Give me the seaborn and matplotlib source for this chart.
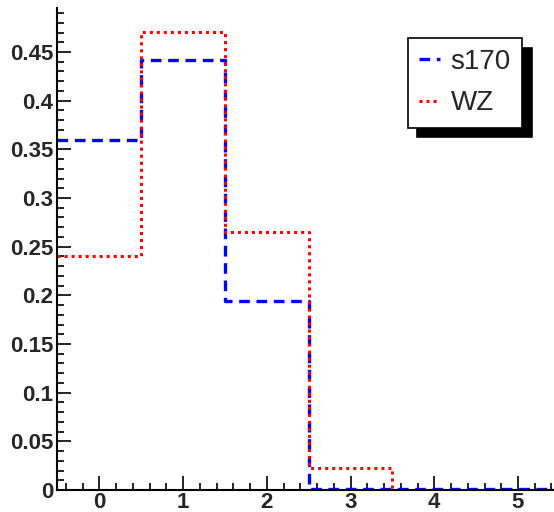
import numpy as np
import pandas as pd
import matplotlib
matplotlib.use("Agg")
import matplotlib.pyplot as plt
from matplotlib.ticker import MultipleLocator
import seaborn as sns

# Data
bin_centers = [0, 1, 2, 3, 4, 5]
s170_values = [0.360, 0.442, 0.194, 0.001, 0.001, 0.001]
wz_values = [0.240, 0.471, 0.265, 0.023, 0.0, 0.0]
series_names = ["s170", "WZ"]
x_ticks = [0, 1, 2, 3, 4, 5]
y_ticks = [0, 0.05, 0.1, 0.15, 0.2, 0.25, 0.3, 0.35, 0.4, 0.45]
y_tick_labels = ["0", "0.05", "0.1", "0.15", "0.2", "0.25", "0.3", "0.35", "0.4", "0.45"]

sns.set_style("ticks")
plt.rcParams["font.family"] = ["Liberation Sans", "DejaVu Sans"]

fig = plt.figure(figsize=(5.54, 5.12), dpi=100)
ax = fig.add_axes([0.1036, 0.043, 0.907, 0.941])

styles = {
    "s170": dict(color="#0000ff", linestyle=(0, (3.2, 2.0)), linewidth=2.4),
    "WZ": dict(color="#ff0000", linestyle=(0, (1.0, 1.3)), linewidth=2.2),
}
series_values = {"s170": s170_values, "WZ": wz_values}
for name in series_names:
    sub = pd.DataFrame({"x": bin_centers, "w": series_values[name]})
    sns.histplot(data=sub, x="x", weights="w", discrete=True, element="step",
                 fill=False, ax=ax, label=name, **styles[name])

ax.set_xlim(-0.5, 5.5)
ax.set_ylim(0, 0.495)
ax.set_xlabel("")
ax.set_ylabel("")
ax.set_xticks(x_ticks)
ax.set_yticks(y_ticks)
ax.set_yticklabels(y_tick_labels)
ax.xaxis.set_minor_locator(MultipleLocator(0.2))
ax.yaxis.set_minor_locator(MultipleLocator(0.01))
ax.tick_params(axis="both", which="major", direction="in", length=10, width=1.2,
               labelsize=16, color="black")
ax.tick_params(axis="both", which="minor", direction="in", length=5, width=1.2,
               color="black")
ax.tick_params(axis="y", which="major", pad=3)
ax.tick_params(axis="x", which="major", pad=1.5)
for lab in ax.get_xticklabels() + ax.get_yticklabels():
    lab.set_fontweight("bold")
for s in ["top", "right"]:
    ax.spines[s].set_visible(False)
for s in ["left", "bottom"]:
    ax.spines[s].set_linewidth(1.5)
    ax.spines[s].set_color("black")

leg = ax.legend(loc="upper left", bbox_to_anchor=(0.697, 0.938), fontsize=20,
                frameon=True, fancybox=False, framealpha=1, edgecolor="black",
                shadow={"ox": 7, "oy": -7, "color": "black", "alpha": 1},
                handlelength=0.75, handletextpad=0.4, borderpad=0.4,
                labelspacing=0.55, borderaxespad=0)
leg.get_frame().set_linewidth(1.2)

fig.savefig("out.png", dpi=100)
